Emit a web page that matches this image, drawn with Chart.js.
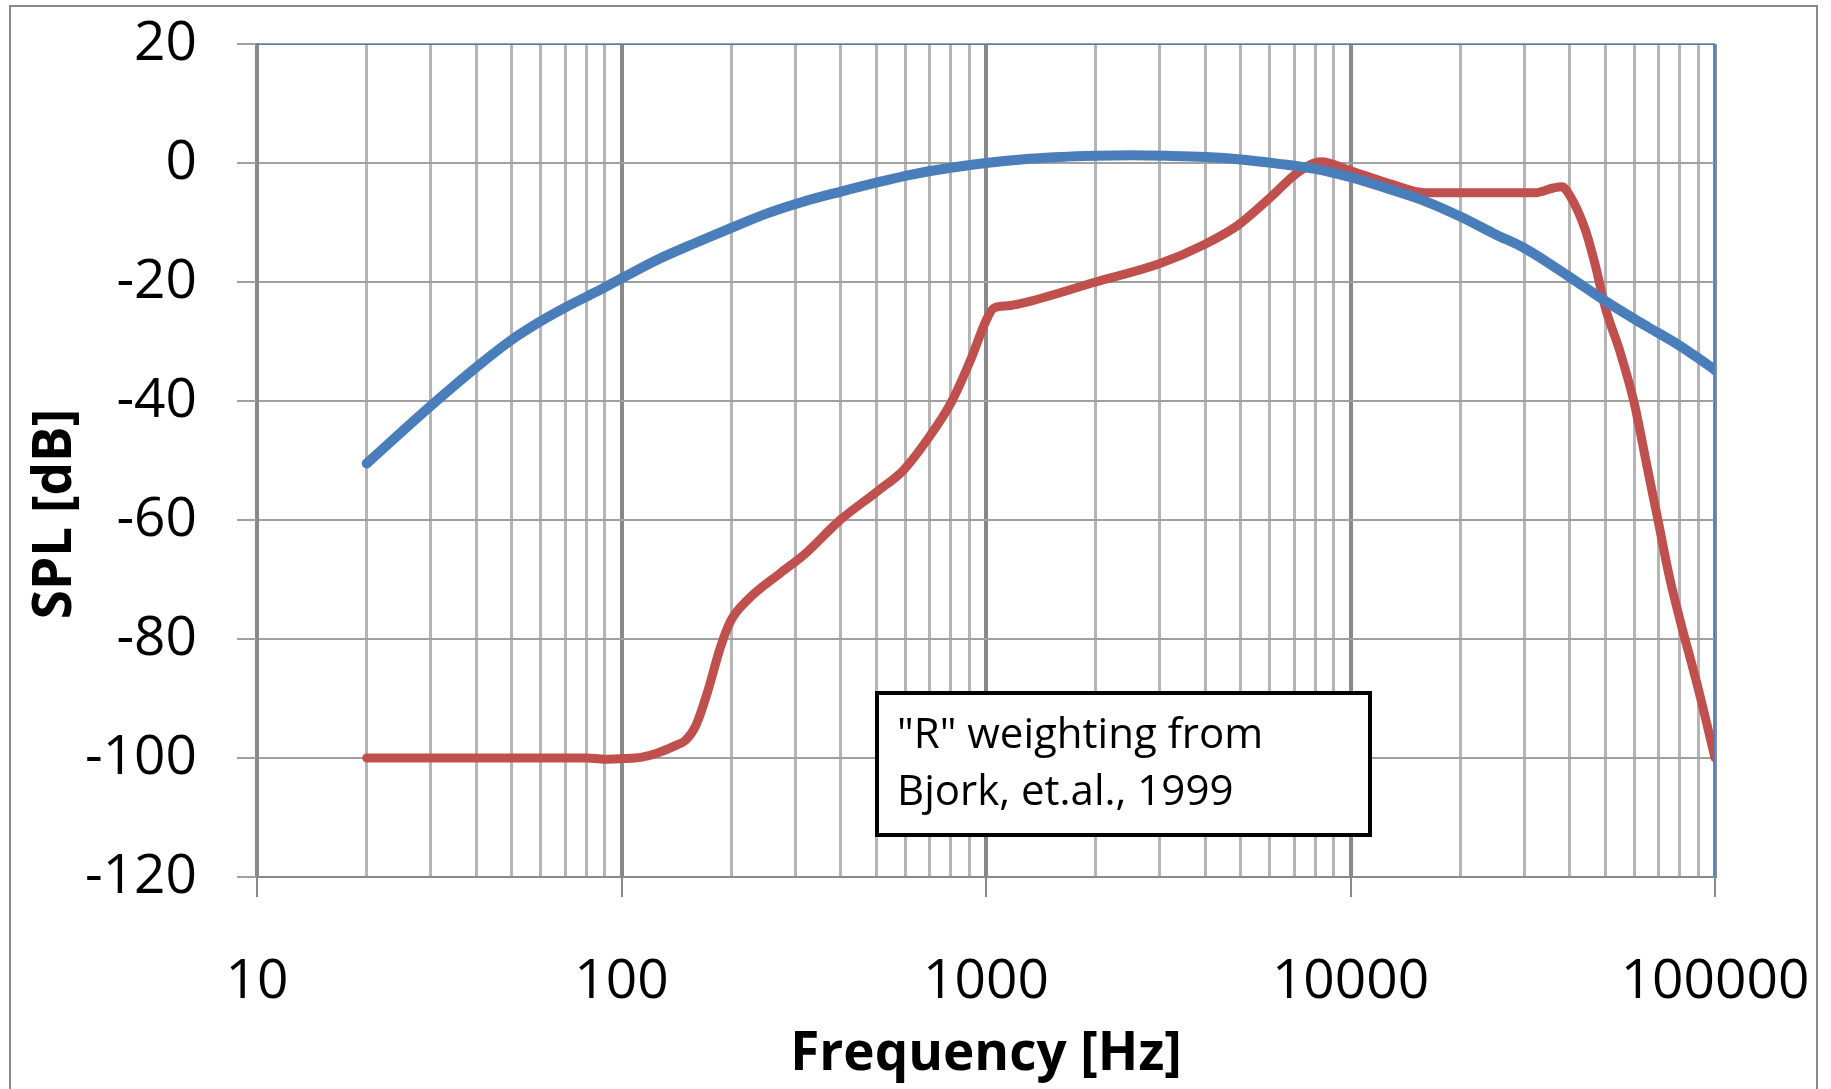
<!DOCTYPE html>
<html>
<head>
<meta charset="utf-8">
<script src="https://cdn.jsdelivr.net/npm/chart.js@4.4.1/dist/chart.umd.min.js"></script>
<style>
  body { margin: 0; background: #fff; }
  #wrap { width: 1831px; height: 1089px; position: relative; }
</style>
</head>
<body>
<div id="wrap"><canvas id="myChart"></canvas></div>
<script>
// A-like curve (blue)
const blueFreq = [20, 30, 40, 50, 60, 70, 80, 90, 100, 125, 160, 200, 250, 315, 400, 500, 630, 800,
  1000, 1250, 1600, 2000, 2500, 3150, 4000, 5000, 6300, 8000, 10000, 12500, 16000, 20000, 25000,
  30000, 40000, 50000, 60000, 70000, 80000, 90000, 100000];
const blueSPL = [-50.5, -40.8, -34.3, -29.7, -26.6, -24.3, -22.5, -20.9, -19.4, -16.3, -13.4, -10.9, -8.5,
  -6.5, -4.8, -3.3, -1.9, -0.8, 0, 0.6, 1.0, 1.2, 1.3, 1.2, 1.0, 0.6, -0.1, -1.0, -2.4, -4.2, -6.4, -9.0,
  -12.0, -14.3, -19.2, -23.2, -26.2, -28.6, -30.7, -32.8, -34.8];

// "R" weighting (red)
const redFreq = [20, 50, 80, 90, 100, 113, 125, 142, 150, 160, 172, 187, 200, 222, 273, 316, 398, 503,
  594, 688, 800, 907, 1000, 1050, 1150, 1250, 2000, 3000, 4000, 4900, 6000, 7200, 8300, 10000, 13000,
  16000, 20000, 32000, 36000, 38000, 40000, 44000, 47000, 50000, 55000, 60000, 65000, 70000, 75000,
  80000, 90000, 100000];
const redSPL = [-100, -100, -100, -100.2, -100.1, -99.9, -99.2, -97.8, -97.0, -94.5, -89, -81.3, -76.8,
  -73.4, -68.9, -65.9, -60, -55.2, -51.6, -46.6, -40.4, -33.1, -26.5, -24.4, -24.0, -23.6, -20, -16.9,
  -13.6, -10.5, -5.9, -1.5, 0.2, -1.3, -3.6, -5.0, -5.0, -5.0, -4.2, -4.0, -5.5, -11.1, -17.3, -24.3,
  -31.9, -40.3, -50.8, -60.5, -69.6, -76.6, -88.4, -100];

// top and right edge of the plot, drawn as a thin blue series
const frameFreq = [10, 100000, 100000];
const frameSPL = [20, 20, -120];

const decades = [10, 100, 1000, 10000, 100000];
const multiples = [1, 2, 3, 4, 5, 6, 7, 8, 9];
const yTicks = [-120, -100, -80, -60, -40, -20, 0, 20];

const noteLines = ['"R" weighting from', 'Bjork, et.al., 1999'];

const toPts = (xs, ys) => xs.map((x, i) => ({ x: x, y: ys[i] }));
const isDecade = (v) => decades.includes(v);

const gridVals = [];
decades.forEach((d) => {
  if (d === 100000) { gridVals.push(d); return; }
  multiples.forEach((m) => gridVals.push(d * m));
});

const extras = {
  id: "extras",
  beforeDraw(chart) {
    const c = chart.ctx;
    c.save();
    c.strokeStyle = "#898989";
    c.lineWidth = 2;
    c.strokeRect(10, 6, 1807, 1110);
    c.restore();
  },
  afterDraw(chart) {
    const c = chart.ctx;
    c.save();
    // y axis title
    c.translate(56, 514);
    c.rotate(-Math.PI / 2);
    c.font = "bold 53px 'Open Sans'";
    c.fillStyle = "#000";
    c.textAlign = "center";
    c.textBaseline = "middle";
    c.fillText("SPL [dB]", 0, 0);
    c.restore();

    // note box
    c.save();
    c.fillStyle = "#fff";
    c.fillRect(877, 693, 493, 142);
    c.strokeStyle = "#000";
    c.lineWidth = 4;
    c.strokeRect(877, 693, 493, 142);
    c.fillStyle = "#000";
    c.font = "42px 'Open Sans'";
    c.textBaseline = "alphabetic";
    c.fillText(noteLines[0], 897, 748);
    c.fillText(noteLines[1], 897, 805);
    c.restore();
  },
};

const ctx = document.getElementById("myChart");
const myChart = new Chart(ctx, {
  type: "line",
  data: {
    datasets: [
      {
        label: "frame",
        data: toPts(frameFreq, frameSPL),
        borderColor: "#4a7ebb",
        borderWidth: 2,
        pointRadius: 0,
        tension: 0,
      },
      {
        label: "A",
        data: toPts(blueFreq, blueSPL),
        borderColor: "#4a7ebb",
        borderWidth: 10,
        pointRadius: 0,
        cubicInterpolationMode: "monotone",
        borderCapStyle: "round",
      },
      {
        label: "R",
        data: toPts(redFreq, redSPL),
        borderColor: "#c0504d",
        borderWidth: 9,
        pointRadius: 0,
        cubicInterpolationMode: "monotone",
        borderCapStyle: "round",
        borderJoinStyle: "round",
      },
    ],
  },
  options: {
    responsive: true,
    maintainAspectRatio: false,
    animation: false,
    layout: { padding: { left: 10, top: 44, right: 116, bottom: 0 } },
    plugins: {
      legend: { display: false },
      tooltip: { enabled: false },
    },
    scales: {
      x: {
        type: "logarithmic",
        min: 10,
        max: 100000,
        afterBuildTicks: (scale) => {
          scale.ticks = gridVals.map((v) => ({ value: v, major: isDecade(v) }));
        },
        afterFit: (scale) => {
          scale.height = 1089 - 877;
          scale.paddingLeft = 0;
          scale.paddingRight = 0;
        },
        ticks: {
          autoSkip: false,
          maxRotation: 0,
          padding: 52,
          color: "#000",
          font: { family: "'Open Sans'", size: 55 },
          callback: (v) => (isDecade(v) ? String(v) : ""),
        },
        grid: {
          color: (c) => (c.tick && isDecade(c.tick.value) ? "#898989" : "#b5b5b5"),
          lineWidth: (c) => (c.tick && isDecade(c.tick.value) ? 4 : 3),
          tickColor: (c) => (c.tick && isDecade(c.tick.value) ? "#898989" : "rgba(0,0,0,0)"),
          tickLength: 20,
          tickWidth: 2,
        },
        border: { display: true, color: "#898989", width: 2 },
        title: {
          display: true,
          text: "Frequency [Hz]",
          color: "#000",
          font: { family: "'Open Sans'", size: 53, weight: "bold" },
          padding: { top: 0, bottom: 2 },
        },
      },
      y: {
        min: -120,
        max: 20,
        afterBuildTicks: (scale) => {
          scale.ticks = yTicks.map((v) => ({ value: v }));
        },
        afterFit: (scale) => {
          scale.width = 257 - 10;
          scale.paddingTop = 0;
          scale.paddingBottom = 0;
        },
        ticks: {
          padding: 40,
          color: "#000",
          font: { family: "'Open Sans'", size: 55 },
        },
        grid: {
          color: "#a0a0a0",
          lineWidth: 2,
          tickLength: 20,
        },
        border: { display: true, color: "#898989", width: 3 },
      },
    },
  },
  plugins: [extras],
});
</script>
</body>
</html>
